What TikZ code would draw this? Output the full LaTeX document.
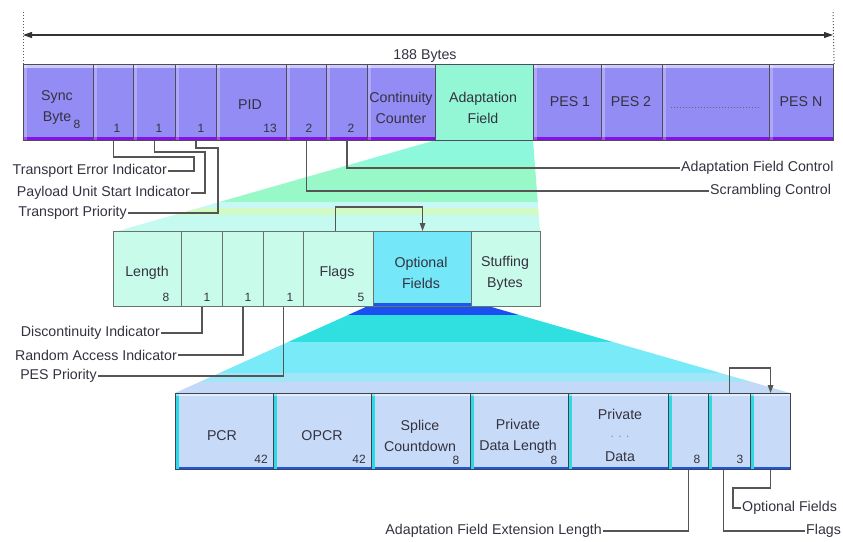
\documentclass[tikz,border=0pt]{standalone}
\usepackage{fontspec}
\setmainfont{Liberation Sans}
\usetikzlibrary{arrows.meta}
\definecolor{topfill}{HTML}{938CF4}
\definecolor{topstrip}{HTML}{8A10E8}
\definecolor{topline}{HTML}{4C4C5C}
\definecolor{affill}{HTML}{93F7D6}
\definecolor{midfill}{HTML}{C9FBEA}
\definecolor{midline}{HTML}{6A726C}
\definecolor{optfill}{HTML}{74E8F8}
\definecolor{bluestrip}{HTML}{1E56EA}
\definecolor{botfill}{HTML}{C7DBF8}
\definecolor{botleft}{HTML}{2ED8E4}
\definecolor{botline}{HTML}{3C4450}
\definecolor{textcol}{HTML}{34323F}
\definecolor{conncol}{HTML}{555555}
\definecolor{gA}{HTML}{8EF8DC}
\definecolor{gB}{HTML}{98F8C8}
\definecolor{gC}{HTML}{C8F8F6}
\definecolor{gD}{HTML}{D2FAC4}
\definecolor{gE}{HTML}{C4FAF0}
\definecolor{cA}{HTML}{1B4FF0}
\definecolor{cB}{HTML}{30E0E0}
\definecolor{cC}{HTML}{78EAF8}
\definecolor{cD}{HTML}{A0E6F8}
\definecolor{cE}{HTML}{C4D8F8}
\begin{document}
\begin{tikzpicture}[x=1pt,y=-1pt,
  box/.style={line width=1.1pt, inner sep=0pt, anchor=north west},
  topbox/.style={box, draw=topline, fill=topfill,
    path picture={
      \fill[topstrip] ([yshift=3.5pt]path picture bounding box.south west) rectangle (path picture bounding box.south east);
      \fill[white,opacity=0.55] (path picture bounding box.north west) rectangle ([yshift=-3pt]path picture bounding box.north east);
      \fill[white,opacity=0.25] (path picture bounding box.north west) rectangle ([xshift=3pt]path picture bounding box.south west);}},
  afbox/.style={box, draw=topline, fill=affill},
  midbox/.style={box, draw=midline, fill=midfill},
  optbox/.style={box, draw=midline, fill=optfill,
    path picture={
      \fill[bluestrip] ([yshift=4pt]path picture bounding box.south west) rectangle (path picture bounding box.south east);}},
  botbox/.style={box, draw=botline, fill=botfill,
    path picture={
      \fill[bluestrip] ([yshift=3pt]path picture bounding box.south west) rectangle (path picture bounding box.south east);
      \fill[botleft] (path picture bounding box.north west) rectangle ([xshift=3pt]path picture bounding box.south west);
      \fill[white,opacity=0.5] (path picture bounding box.north west) rectangle ([yshift=-2.5pt]path picture bounding box.north east);}},
  lab/.style={text=textcol, inner sep=1pt, font=\fontsize{14.2}{21}\selectfont, align=center},
  num/.style={text=textcol, inner sep=0pt, font=\fontsize{12}{13}\selectfont},
  conn/.style={draw=conncol, line width=1.3pt},
  arr/.style={conn, -{Triangle[length=8pt,width=5.5pt]}}
]
\useasboundingbox (0,0) rectangle (843,541);

% ---- green fan ----
\begin{scope}
  \clip (436,140) -- (533,140) -- (540,231) -- (118,231) -- cycle;
  \fill[gA] (100,138) rectangle (545,165);
  \fill[gB] (100,165) rectangle (545,202);
  \fill[gC] (100,202) rectangle (545,208);
  \fill[gD] (100,208) rectangle (545,215);
  \fill[gE] (100,215) rectangle (545,232);
\end{scope}
% ---- cyan fan ----
\begin{scope}
  \clip (368,306) -- (488,306) -- (790,393) -- (175,393) -- cycle;
  \fill[cA] (160,304) rectangle (800,315);
  \fill[cB] (160,315) rectangle (800,342);
  \fill[cC] (160,342) rectangle (800,373);
  \fill[cD] (160,373) rectangle (800,382);
  \fill[cE] (160,382) rectangle (800,394);
\end{scope}

% ---- dimension arrow ----
\coordinate (dimL) at (23,35);
\coordinate (dimR) at (833,35);
\coordinate (dotL) at (23,10);
\coordinate (dotR) at (833,10);
\draw[conn, line width=1.1pt, draw=black!80, {Triangle[length=9pt,width=6pt]}-{Triangle[length=9pt,width=6pt]}] (dimL) -- (dimR);
\node[lab] (bytes) at (425,56) {188 Bytes};

% ---- top row ----
\node[topbox, minimum width=70pt, minimum height=76pt] (sync) at (23,64) {};
\node[topbox, minimum width=40pt, minimum height=76pt] (tei) at (93,64) {};
\node[topbox, minimum width=42pt, minimum height=76pt] (pusi) at (133,64) {};
\node[topbox, minimum width=41pt, minimum height=76pt] (tp) at (175,64) {};
\node[topbox, minimum width=70pt, minimum height=76pt] (pid) at (216,64) {};
\node[topbox, minimum width=40pt, minimum height=76pt] (sc) at (286,64) {};
\node[topbox, minimum width=41pt, minimum height=76pt] (afc) at (326,64) {};
\node[topbox, minimum width=68pt, minimum height=76pt] (cc) at (367,64) {};
\node[afbox, minimum width=98pt, minimum height=76pt] (af) at (435,64) {};
\node[topbox, minimum width=68pt, minimum height=76pt] (pes1) at (533,64) {};
\node[topbox, minimum width=61pt, minimum height=76pt] (pes2) at (601,64) {};
\node[topbox, minimum width=107pt, minimum height=76pt] (pesdots) at (662,64) {};
\node[topbox, minimum width=64pt, minimum height=76pt] (pesn) at (769,64) {};
\draw[conncol, line width=1pt, dotted] (sync.north west) -- (dotL);
\draw[conncol, line width=1pt, dotted] (pesn.north east) -- (dotR);

\node[lab] (tsync) at (57,108) {Sync\\Byte};
\node[num] (nsync) at (77,124) {8};
\node[num] (ntei) at (117,128) {1};
\node[num] (npusi) at (159,128) {1};
\node[num] (ntp) at (201,128) {1};
\node[lab] (tpid) at (250,105) {PID};
\node[num] (npid) at (270,128) {13};
\node[num] (nsc) at (309,128) {2};
\node[num] (nafc) at (351,128) {2};
\node[lab] (tcc) at (401,108) {Continuity\\Counter};
\node[lab] (taf) at (483,108) {Adaptation\\Field};
\node[lab] (tpes1) at (570,102) {PES 1};
\node[lab] (tpes2) at (631,102) {PES 2};
\coordinate (dl) at (671,107);
\coordinate (dr) at (760,107);
\draw[textcol!75, line width=1pt, dotted] (dl) -- (dr);
\node[lab] (tpesn) at (801,102) {PES N};

% ---- top labels ----
\node[lab, anchor=east] (ltei) at (168,171) {Transport Error Indicator};
\node[lab, anchor=east] (lpusi) at (191,193) {Payload Unit Start Indicator};
\node[lab, anchor=east] (ltp) at (128,213) {Transport Priority};
\node[lab, anchor=west] (lafc) at (680,168) {Adaptation Field Control};
\node[lab, anchor=west] (lsc) at (709,191) {Scrambling Control};
\draw[conn] (tei.south) |- (194,157) |- (ltei.east);
\draw[conn] (pusi.south) |- (205,152) |- (lpusi.east);
\draw[conn] (tp.south) |- (218,148) |- (ltp.east);
\draw[conn] (afc.south) |- (lafc.west);
\draw[conn] (sc.south) |- (lsc.west);

% ---- middle row ----
\node[midbox, minimum width=68pt, minimum height=75pt] (len) at (113,231) {};
\node[midbox, minimum width=41pt, minimum height=75pt] (di) at (181,231) {};
\node[midbox, minimum width=41pt, minimum height=75pt] (rai) at (222,231) {};
\node[midbox, minimum width=40pt, minimum height=75pt] (pesp) at (263,231) {};
\node[midbox, minimum width=70pt, minimum height=75pt] (flags) at (303,231) {};
\node[optbox, minimum width=98pt, minimum height=75pt] (opt) at (373,231) {};
\node[midbox, minimum width=69pt, minimum height=75pt] (stuff) at (471,231) {};

\node[lab] (tlen) at (147,273) {Length};
\node[num] (nlen) at (166,297) {8};
\node[num] (ndi) at (207,297) {1};
\node[num] (nrai) at (248,297) {1};
\node[num] (npesp) at (290,297) {1};
\node[lab] (tflags) at (337,273) {Flags};
\node[num] (nflags) at (361,297) {5};
\node[lab] (topt) at (421,273) {Optional\\Fields};
\node[lab] (tstuff) at (505,273) {Stuffing\\Bytes};
\draw[arr] ([xshift=-3pt]flags.north) -- ++(0,-24) -| (opt.north);

\node[lab, anchor=east] (ldi) at (161,333) {Discontinuity Indicator};
\node[lab, anchor=east] (lrai) at (178,355) {Random Access Indicator};
\node[lab, anchor=east] (lpesp) at (98,376) {PES Priority};
\draw[conn] (di.south) |- (ldi.east);
\draw[conn] (rai.south) |- (lrai.east);
\draw[conn] (pesp.south) |- (lpesp.east);

% ---- bottom row ----
\node[botbox, minimum width=98pt, minimum height=76pt] (pcr) at (175,393) {};
\node[botbox, minimum width=98pt, minimum height=76pt] (opcr) at (273,393) {};
\node[botbox, minimum width=99pt, minimum height=76pt] (splice) at (371,393) {};
\node[botbox, minimum width=98pt, minimum height=76pt] (pdl) at (470,393) {};
\node[botbox, minimum width=100pt, minimum height=76pt] (pd) at (568,393) {};
\node[botbox, minimum width=40pt, minimum height=76pt] (afel) at (668,393) {};
\node[botbox, minimum width=42pt, minimum height=76pt] (flg) at (708,393) {};
\node[botbox, minimum width=40pt, minimum height=76pt] (ofl) at (750,393) {};

\node[lab] (tpcr) at (222,436) {PCR};
\node[num] (npcr) at (261,459) {42};
\node[lab] (topcr) at (322,436) {OPCR};
\node[num] (nopcr) at (359,459) {42};
\node[lab] (tsplice) at (420,436) {Splice\\Countdown};
\node[num] (nsplice) at (456,460) {8};
\node[lab] (tpdl) at (518,436) {Private\\Data Length};
\node[num] (npdl) at (554,460) {8};
\node[lab] (tpd1) at (620,414) {Private};
\node[num, text=textcol!60] (tpd2) at (620,437) {. . .};
\node[lab] (tpd3) at (620,457) {Data};
\node[num] (nafel) at (697,459) {8};
\node[num] (nflg) at (740,459) {3};
\draw[arr] (flg.north) -- ++(0,-25) -| (ofl.north);

\node[lab, anchor=east] (lafel) at (603,531) {Adaptation Field Extension Length};
\node[lab, anchor=west] (lofl) at (741,508) {Optional Fields};
\node[lab, anchor=west] (lflg) at (805,531) {Flags};
\draw[conn] (afel.south) |- (lafel.east);
\draw[conn] ([xshift=-6pt]flg.south) |- (lflg.west);
\draw[conn] (ofl.south) |- (733,488) |- (lofl.west);
\end{tikzpicture}
\end{document}
